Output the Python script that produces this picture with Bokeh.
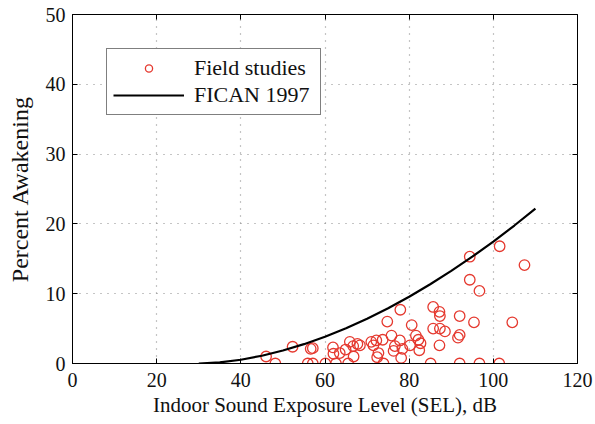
from bokeh.plotting import figure
from bokeh.models import Range1d, LinearAxis, SingleIntervalTicker, Legend, LegendItem
from bokeh.embed import file_html
from bokeh.resources import INLINE

# Field study observations: indoor SEL (dB) and percent awakening
field_sel = [46.0, 48.2, 52.3, 56.6, 57.1, 55.9, 57.1, 60.1, 61.9, 62.0,
             62.6, 63.5, 64.9, 65.5, 65.9, 66.7, 66.8, 67.7, 68.3, 71.0,
             71.5, 72.2, 72.4, 72.7, 73.7, 73.9, 74.8, 75.8, 76.6, 76.3,
             77.8, 77.9, 78.1, 78.4, 80.2, 80.6, 81.6, 82.2, 82.7, 82.4,
             85.1, 85.7, 85.7, 87.2, 87.3, 87.3, 87.2, 88.5, 92.0, 92.0,
             91.6, 92.0, 94.4, 94.4, 95.4, 96.7, 96.7, 101.4, 101.5, 104.5,
             107.4]
field_awake = [1.0, 0.0, 2.4, 2.1, 2.2, 0.0, 0.0, 0.0, 2.3, 1.4,
               0.0, 1.5, 2.0, 0.0, 3.1, 2.5, 1.0, 2.8, 2.6, 3.1,
               2.6, 3.3, 0.9, 1.5, 3.4, 0.0, 6.0, 4.0, 2.5, 1.8,
               3.3, 7.7, 0.8, 2.1, 2.6, 5.5, 4.0, 3.4, 2.9, 1.9,
               0.0, 8.1, 5.0, 7.4, 6.8, 5.0, 2.6, 4.6, 6.8, 4.1,
               3.7, 0.0, 15.3, 12.0, 5.9, 10.4, 0.0, 0.0, 16.8, 5.9,
               14.1]

# FICAN 1997 curve
fican_sel = [30, 35, 40, 45, 50, 55, 60, 65, 70, 75, 80, 85, 90, 95, 100, 105, 110]
fican_awake = [0.0, 0.16, 0.54, 1.11, 1.86, 2.77, 3.83, 5.05, 6.42, 7.92,
               9.57, 11.35, 13.26, 15.30, 17.47, 19.77, 22.19]

x_ticks = [0, 20, 40, 60, 80, 100, 120]
y_ticks = [0, 10, 20, 30, 40, 50]

FONT = "Liberation Serif"

p = figure(width=595, height=424, output_backend="svg", toolbar_location=None,
           x_range=Range1d(0, 120), y_range=Range1d(0, 50),
           min_border_left=72, min_border_right=18, min_border_top=14, min_border_bottom=61)
p.background_fill_color = "white"
p.border_fill_color = "white"
p.outline_line_color = "black"
p.outline_line_width = 1

for ax, step in ((p.xaxis[0], 20), (p.yaxis[0], 10)):
    ax.ticker = SingleIntervalTicker(interval=step, num_minor_ticks=0)
    ax.major_tick_in = 5
    ax.major_tick_out = 0
    ax.minor_tick_line_color = None
    ax.axis_line_color = "black"
    ax.major_tick_line_color = "black"
    ax.major_label_text_font = FONT
    ax.major_label_text_font_size = "20px"
    ax.major_label_text_color = "#111111"
    ax.axis_label_text_font = FONT
    ax.axis_label_text_font_style = "normal"
    ax.axis_label_text_color = "#111111"

p.xaxis[0].axis_label = "Indoor Sound Exposure Level (SEL), dB"
p.xaxis[0].axis_label_text_font_size = "21px"
p.xaxis[0].major_label_standoff = 9
p.xaxis[0].axis_label_standoff = 3
p.yaxis[0].axis_label = "Percent Awakening"
p.yaxis[0].axis_label_text_font_size = "24px"
p.yaxis[0].major_label_standoff = 7
p.yaxis[0].axis_label_standoff = 10

# box-style ticks on top and right
for loc, step in (("above", 20), ("right", 10)):
    ax = LinearAxis(ticker=SingleIntervalTicker(interval=step, num_minor_ticks=0))
    ax.major_tick_in = 5
    ax.major_tick_out = 0
    ax.minor_tick_line_color = None
    ax.axis_line_color = None
    ax.major_label_text_font_size = "0px"
    ax.major_label_text_color = None
    ax.major_label_standoff = 0
    p.add_layout(ax, loc)

p.xgrid.ticker = SingleIntervalTicker(interval=20)
p.ygrid.ticker = SingleIntervalTicker(interval=10)
for g in (p.xgrid[0], p.ygrid[0]):
    g.grid_line_color = "#8a8a8a"
    g.grid_line_dash = "1 6"
    g.grid_line_width = 1.2

pts = p.scatter(field_sel, field_awake, marker="circle", size=10.5,
                fill_color=None, line_color="#e5392f", line_width=1.3)
ln = p.line(fican_sel, fican_awake, line_color="black", line_width=2.2)

legend = Legend(items=[LegendItem(label="Field studies", renderers=[pts]),
                       LegendItem(label="FICAN 1997", renderers=[ln])],
                location=(34, 248))
legend.border_line_color = "black"
legend.border_line_width = 1
legend.background_fill_color = "white"
legend.background_fill_alpha = 1
legend.padding = 6
legend.spacing = 1
legend.glyph_width = 71
legend.glyph_height = 18
legend.label_standoff = 10
legend.label_width = 120
legend.label_text_font = FONT
legend.label_text_font_size = "22px"
legend.label_text_color = "#111111"
legend.label_height = 18
p.add_layout(legend)

open("out.html", "w").write(file_html(p, INLINE))
